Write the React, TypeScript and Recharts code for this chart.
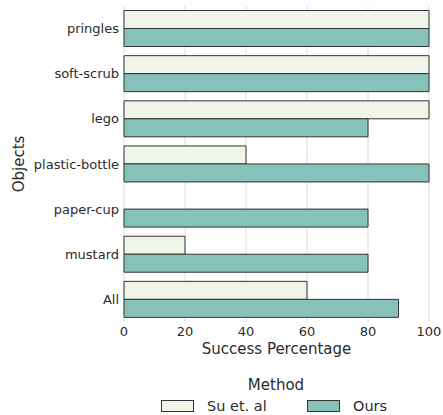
import { BarChart, Bar, XAxis, YAxis, CartesianGrid, Legend } from 'recharts';

// Success percentage per object
const objects = ['pringles', 'soft-scrub', 'lego', 'plastic-bottle', 'paper-cup', 'mustard', 'All'];
const suEtAl = [100, 100, 100, 40, 0, 20, 60];
const ours = [100, 100, 80, 100, 80, 80, 90];
const percentTicks = [0, 20, 40, 60, 80, 100];

const methods = [
  { key: 'su', label: 'Su et. al', color: '#eff5e9' },
  { key: 'ours', label: 'Ours', color: '#86c2b9' },
];

const data = objects.map((name, i) => ({ name, su: suEtAl[i], ours: ours[i] }));

const FONT = 'DejaVu Sans, sans-serif';
const TEXT = '#2b2b2b';

function MethodLegend() {
  return (
    <div style={{ width: 443, height: 53, fontFamily: FONT, color: TEXT, position: 'relative' }}>
      <div style={{ position: 'absolute', left: 0, width: 552, top: 14, textAlign: 'center', fontSize: 15, lineHeight: '18px' }}>
        Method
      </div>
      <div style={{ position: 'absolute', left: 161, top: 37, height: 14, display: 'flex', alignItems: 'center', fontSize: 14.5, lineHeight: '14px' }}>
        {methods.map((m) => (
          <div key={m.key} style={{ display: 'flex', alignItems: 'center', width: 146, height: 14 }}>
            <span style={{ display: 'inline-block', width: 31, height: 10, background: m.color, border: '1px solid #333', marginRight: 13 }} />
            <span>{m.label}</span>
          </div>
        ))}
      </div>
    </div>
  );
}

export default function App() {
  return (
    <div style={{ position: 'absolute', left: 0, top: 0 }}>
      <BarChart
        width={443}
        height={415}
        data={data}
        layout="vertical"
        margin={{ top: 6, right: 14, left: 0, bottom: 0 }}
        barCategoryGap="10%"
        barGap={0}
      >
        <CartesianGrid horizontal={false} stroke="#dcdcdc" strokeWidth={1} />
        <XAxis
          type="number"
          domain={[0, 100]}
          ticks={percentTicks}
          axisLine={false}
          tickLine={false}
          tickSize={0}
          tickMargin={5}
          height={40}
          tick={{ fill: TEXT, fontSize: 13, fontFamily: FONT }}
          label={{ value: 'Success Percentage', position: 'insideBottom', offset: 8, fill: TEXT, fontSize: 15, fontFamily: FONT }}
        />
        <YAxis
          type="category"
          dataKey="name"
          width={124}
          axisLine={false}
          tickLine={false}
          tickSize={0}
          tickMargin={5}
          tick={{ fill: TEXT, fontSize: 13, fontFamily: FONT }}
          label={{ value: 'Objects', angle: -90, position: 'insideLeft', offset: 19, fill: TEXT, fontSize: 15, fontFamily: FONT, style: { textAnchor: 'middle' } }}
        />
        <Legend verticalAlign="bottom" content={() => <MethodLegend />} />
        {methods.map((m) => (
          <Bar key={m.key} dataKey={m.key} name={m.label} fill={m.color} stroke="#333" strokeWidth={1} isAnimationActive={false} />
        ))}
      </BarChart>
    </div>
  );
}
